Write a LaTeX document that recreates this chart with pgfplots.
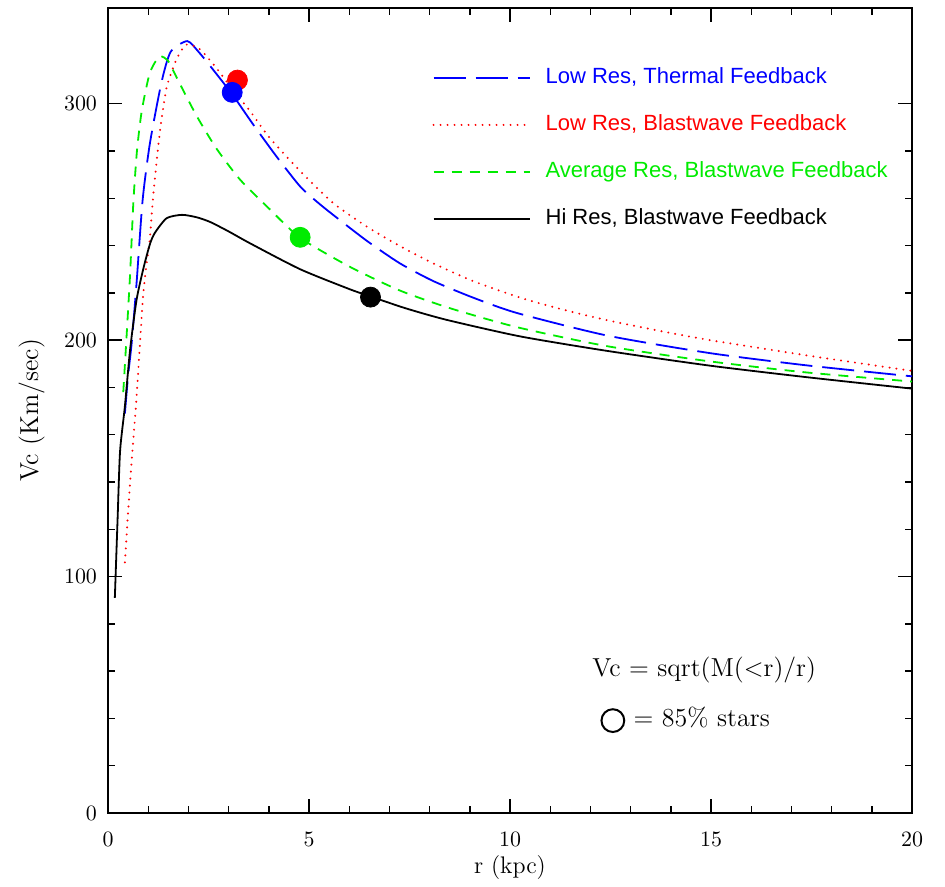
\documentclass[border=0pt]{standalone}
\usepackage{pgfplots}
\pgfplotsset{compat=1.18}
\usepackage{fontspec}
\newfontfamily\lsans{Liberation Sans}
\definecolor{cblue}{RGB}{0,0,255}
\definecolor{cred}{RGB}{255,0,0}
\definecolor{cgreen}{RGB}{0,235,0}
\begin{document}
\begin{tikzpicture}
\begin{axis}[name=ax, scale only axis, width=402pt, height=402.5pt,
 xmin=0, xmax=20, ymin=0, ymax=340.5,
 xtick={0,5,10,15,20}, ytick={0,100,200,300},
 minor x tick num=4, minor y tick num=4,
 tick align=inside, major tick length=7pt, minor tick length=3.5pt,
 axis line style={line width=0.8pt},
 every tick/.style={black, line width=0.7pt},
 tick label style={font=\fontsize{11}{13}\selectfont},
 yticklabel style={xshift=-2pt},
 xticklabel style={yshift=-6pt},
 xlabel={r (kpc)}, ylabel={Vc (Km/sec)},
 xlabel style={font=\fontsize{12}{14}\selectfont, at={(axis description cs:0.5,0)}, anchor=center, yshift=-27.5pt},
 ylabel style={font=\fontsize{13}{15}\selectfont, at={(axis description cs:-0.095,0.5)}, anchor=center},
 legend style={draw=none, fill=none, inner sep=0pt, at={(rel axis cs:0.403,0.9267)}, anchor=north west,
   font=\lsans\fontsize{11}{13}\selectfont, row sep=13pt, column sep=7.5pt,
   nodes={inner sep=0pt, text height=8pt, text depth=2.5pt}},
 legend cell align=left,
 legend image code/.code={\draw[#1] (0pt,0pt) -- (48pt,0pt);},
]
% Low Res, Thermal Feedback
\addplot[cblue, line width=0.9pt, dash pattern=on 16pt off 5pt, smooth, tension=0.4] coordinates {
(0.42,169) (0.50,185) (0.59,199) (0.71,224) (0.86,259) (1.04,283) (1.33,309) (1.56,322)
(1.97,326.5) (2.25,322) (2.54,316) (3.09,304) (3.60,291.5) (4.20,277.5) (4.78,265) (5.20,258.5)
(5.60,253) (6.44,242) (7.26,232.5) (8.09,225) (9.08,218) (10.17,211.5) (12.4,202)
(14.98,194.5) (17.4,189.3) (20,184.7)};
\addlegendentry{\textcolor{cblue}{Low Res, Thermal Feedback}}
% Low Res, Blastwave Feedback
\addplot[cred, line width=1.1pt, line cap=round, dash pattern=on 0pt off 3.5pt, smooth, tension=0.4] coordinates {
(0.42,106) (0.55,140) (0.71,176) (0.88,220) (1.04,243) (1.13,262) (1.29,288) (1.46,307)
(1.71,319) (1.95,325) (2.29,323) (2.70,315) (3.10,306) (3.53,297) (4.00,286) (4.78,271.5)
(5.60,258) (6.44,248) (7.26,239.8) (8.09,232.5) (9.08,225) (10.25,218) (11.3,213)
(12.4,208.5) (13.7,204) (14.98,200) (17.4,193.5) (20,187)};
\addlegendentry{\textcolor{cred}{Low Res, Blastwave Feedback}}
% Average Res, Blastwave Feedback
\addplot[cgreen, line width=0.9pt, dash pattern=on 5pt off 4pt, smooth, tension=0.4] coordinates {
(0.38,178) (0.46,201) (0.55,228) (0.63,258) (0.72,280) (0.84,297) (1.04,313) (1.28,320)
(1.50,318) (1.71,311) (2.20,295) (2.70,281) (3.28,268) (3.95,256.6) (4.78,243.3)
(6.02,231) (7.26,221) (8.51,213.5) (10.17,205.5) (12.4,197.5) (14.98,191) (17.4,186.3) (20,182.5)};
\addlegendentry{\textcolor{cgreen}{Average Res, Blastwave Feedback}}
% Hi Res, Blastwave Feedback
\addplot[black, line width=0.9pt, smooth, tension=0.4] coordinates {
(0.17,91) (0.24,125) (0.30,153) (0.42,172) (0.55,196) (0.71,217) (0.89,231) (1.05,241)
(1.17,245.5) (1.46,251.6) (1.84,253) (2.20,252) (2.54,250) (3.00,246) (3.53,241) (4.78,230)
(6.02,221.5) (6.53,218.5) (7.40,213.5) (8.42,208.6) (10.25,201.6) (12.4,195.5) (14.98,189.2)
(17.4,184.3) (20,179.5)};
\addlegendentry{Hi Res, Blastwave Feedback}
% 85% stars markers
\addplot[forget plot, only marks, mark=*, mark size=5pt, cred, mark options={fill=cred, draw=cred}] coordinates {(3.22,310)};
\addplot[forget plot, only marks, mark=*, mark size=5pt, cblue, mark options={fill=cblue, draw=cblue}] coordinates {(3.09,304.8)};
\addplot[forget plot, only marks, mark=*, mark size=5pt, cgreen, mark options={fill=cgreen, draw=cgreen}] coordinates {(4.78,243.5)};
\addplot[forget plot, only marks, mark=*, mark size=5pt, black] coordinates {(6.53,218.2)};
\node[anchor=west, inner sep=0pt, font=\fontsize{13}{15}\selectfont] at (axis cs:12.04,60.5) {Vc = sqrt(M(<r)/r)};
\node[anchor=west, inner sep=0pt, font=\fontsize{13}{15}\selectfont] at (axis cs:12.24,39.4) {\tikz[baseline=-0.5ex]\draw[line width=1pt] (0,0) circle (5.7pt);\ = 85\% stars};
\end{axis}
\path (ax.south west) ++(-54pt,-35pt);
\path (ax.north east) ++(16.5pt,4pt);
\end{tikzpicture}
\end{document}
